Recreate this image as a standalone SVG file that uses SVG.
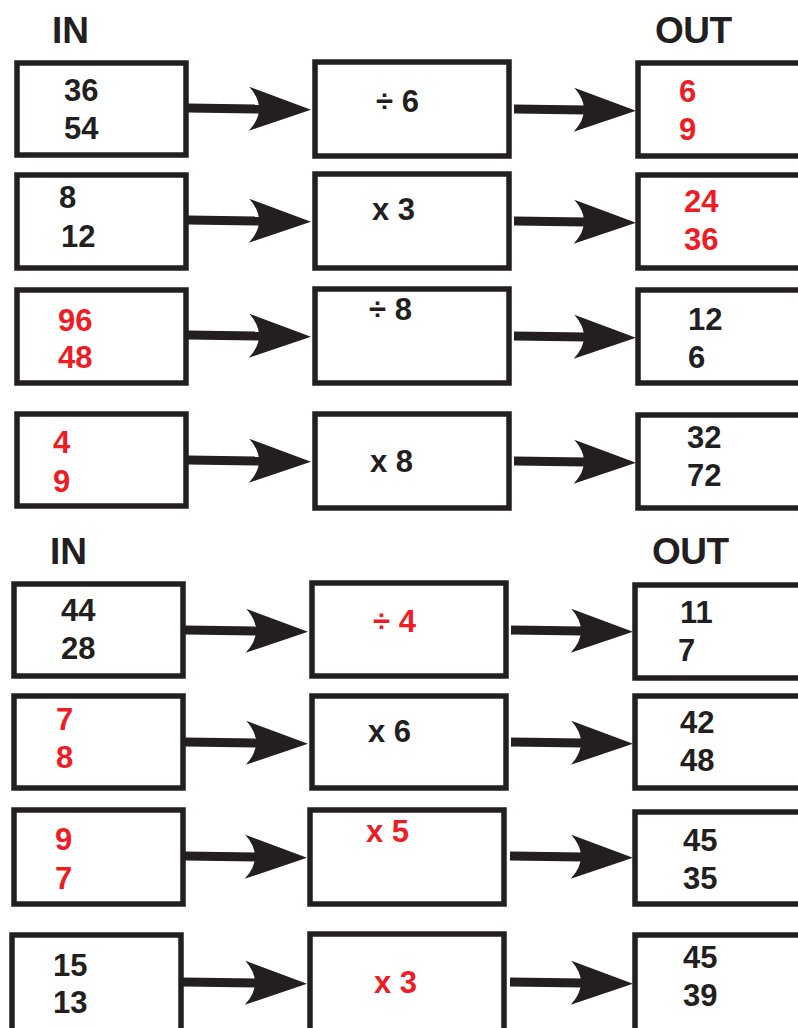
<svg xmlns="http://www.w3.org/2000/svg" width="798" height="1028" viewBox="0 0 798 1028">
<style>
.box{fill:#fff;stroke:#231f20;stroke-width:5.5}
.t{font-family:"Liberation Sans",Arial,sans-serif;font-weight:bold;font-size:31px;fill:#231f20}
.r{fill:#ee1c25}
.h{font-family:"Liberation Sans",Arial,sans-serif;font-weight:bold;font-size:37px;fill:#231f20}
.sh{stroke:#231f20;stroke-width:9;fill:none}
</style>
<defs>
<marker id="ah" markerUnits="userSpaceOnUse" viewBox="0 0 64 46" markerWidth="64" markerHeight="46" refX="14" refY="23" orient="auto">
<path d="M2,1 L64,23 L2,45 Q22,23 2,1 Z" fill="#231f20"/>
</marker>
</defs>
<rect width="798" height="1028" fill="#fff"/>
<text class="h" x="52" y="43">IN</text>
<text class="h" x="655" y="43" textLength="77">OUT</text>
<text class="h" x="50" y="564">IN</text>
<text class="h" x="652" y="564" textLength="77">OUT</text>

<g id="connectors">
<line class="sh" x1="188" y1="108" x2="261" y2="109" marker-end="url(#ah)"/>
<line class="sh" x1="514" y1="109" x2="586" y2="110" marker-end="url(#ah)"/>
<line class="sh" x1="188" y1="220" x2="261" y2="221" marker-end="url(#ah)"/>
<line class="sh" x1="514" y1="221" x2="586" y2="222" marker-end="url(#ah)"/>
<line class="sh" x1="188" y1="335" x2="261" y2="336" marker-end="url(#ah)"/>
<line class="sh" x1="514" y1="336" x2="586" y2="337" marker-end="url(#ah)"/>
<line class="sh" x1="188" y1="460" x2="261" y2="461" marker-end="url(#ah)"/>
<line class="sh" x1="514" y1="461" x2="586" y2="462" marker-end="url(#ah)"/>
<line class="sh" x1="185" y1="630" x2="258" y2="631" marker-end="url(#ah)"/>
<line class="sh" x1="511" y1="630" x2="583" y2="631" marker-end="url(#ah)"/>
<line class="sh" x1="185" y1="742" x2="258" y2="743" marker-end="url(#ah)"/>
<line class="sh" x1="511" y1="742" x2="583" y2="743" marker-end="url(#ah)"/>
<line class="sh" x1="185" y1="856" x2="257" y2="857" marker-end="url(#ah)"/>
<line class="sh" x1="510" y1="856" x2="583" y2="857" marker-end="url(#ah)"/>
<line class="sh" x1="183" y1="982" x2="257" y2="983" marker-end="url(#ah)"/>
<line class="sh" x1="510" y1="982" x2="583" y2="983" marker-end="url(#ah)"/>
</g>

<g id="in1"><rect class="box" x="17" y="63" width="169" height="92"/><text class="t" x="64" y="101">36</text><text class="t" x="64" y="139">54</text></g>
<g id="op1"><rect class="box" x="315" y="62" width="194" height="94"/><text class="t" x="376" y="112">÷ 6</text></g>
<g id="out1"><rect class="box" x="638" y="63" width="200" height="93"/><text class="t r" x="679" y="102">6</text><text class="t r" x="679" y="140">9</text></g>

<g id="in2"><rect class="box" x="17" y="175" width="169" height="93"/><text class="t" x="59" y="208">8</text><text class="t" x="61" y="247">12</text></g>
<g id="op2"><rect class="box" x="315" y="174" width="194" height="94"/><text class="t" x="372" y="220">x 3</text></g>
<g id="out2"><rect class="box" x="638" y="175" width="200" height="93"/><text class="t r" x="684" y="212">24</text><text class="t r" x="684" y="250">36</text></g>

<g id="in3"><rect class="box" x="17" y="290" width="169" height="93"/><text class="t r" x="58" y="331">96</text><text class="t r" x="58" y="368">48</text></g>
<g id="op3"><rect class="box" x="315" y="289" width="194" height="94"/><text class="t" x="369" y="320">÷ 8</text></g>
<g id="out3"><rect class="box" x="638" y="290" width="200" height="93"/><text class="t" x="688" y="330">12</text><text class="t" x="688" y="368">6</text></g>

<g id="in4"><rect class="box" x="17" y="414" width="169" height="92"/><text class="t r" x="53" y="453">4</text><text class="t r" x="53" y="492">9</text></g>
<g id="op4"><rect class="box" x="315" y="414" width="194" height="94"/><text class="t" x="370" y="472">x 8</text></g>
<g id="out4"><rect class="box" x="638" y="415" width="200" height="93"/><text class="t" x="687" y="448">32</text><text class="t" x="687" y="486">72</text></g>

<g id="in5"><rect class="box" x="14" y="584" width="169" height="92"/><text class="t" x="61" y="621">44</text><text class="t" x="61" y="659">28</text></g>
<g id="op5"><rect class="box" x="312" y="583" width="194" height="93"/><text class="t r" x="373" y="632">÷ 4</text></g>
<g id="out5"><rect class="box" x="635" y="585" width="200" height="93"/><text class="t" x="680" y="623">11</text><text class="t" x="678" y="661">7</text></g>

<g id="in6"><rect class="box" x="14" y="696" width="169" height="92"/><text class="t r" x="56" y="730">7</text><text class="t r" x="56" y="768">8</text></g>
<g id="op6"><rect class="box" x="312" y="696" width="194" height="92"/><text class="t" x="368" y="742">x 6</text></g>
<g id="out6"><rect class="box" x="635" y="696" width="200" height="92"/><text class="t" x="680" y="733">42</text><text class="t" x="680" y="771">48</text></g>

<g id="in7"><rect class="box" x="14" y="810" width="169" height="94"/><text class="t r" x="55" y="850">9</text><text class="t r" x="55" y="889">7</text></g>
<g id="op7"><rect class="box" x="310" y="810" width="194" height="94"/><text class="t r" x="366" y="842">x 5</text></g>
<g id="out7"><rect class="box" x="635" y="812" width="200" height="92"/><text class="t" x="683" y="851">45</text><text class="t" x="683" y="889">35</text></g>

<g id="in8"><rect class="box" x="12" y="935" width="169" height="100"/><text class="t" x="53" y="976">15</text><text class="t" x="53" y="1013">13</text></g>
<g id="op8"><rect class="box" x="310" y="934" width="194" height="100"/><text class="t r" x="374" y="993">x 3</text></g>
<g id="out8"><rect class="box" x="635" y="935" width="200" height="100"/><text class="t" x="683" y="968">45</text><text class="t" x="683" y="1006">39</text></g>
</svg>
